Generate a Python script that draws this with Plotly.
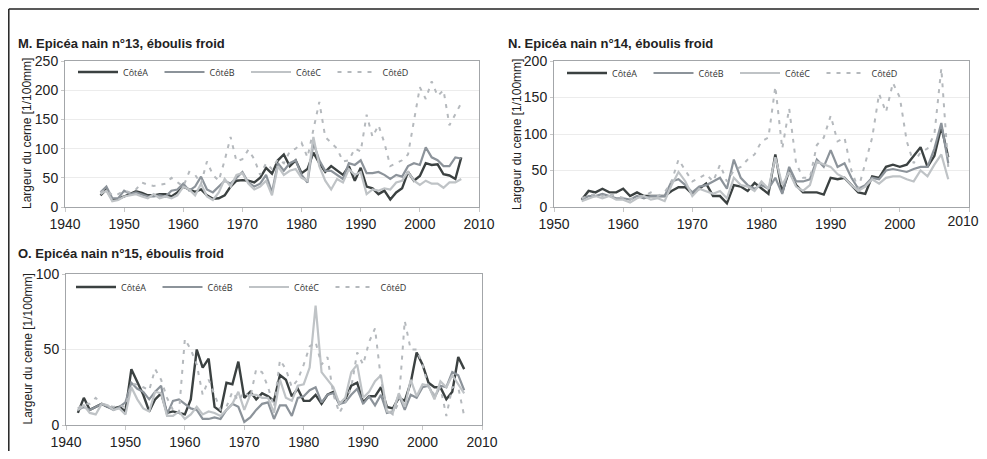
import plotly.graph_objects as go

# ---------------- DATA ----------------
years_m = list(range(1946, 2008))
m_cote_a = [20, 30, 12, 14, 18, 22, 27, 24, 20, 20, 22, 22, 18, 25, 35, 30, 26, 30, 20, 14,
            15, 20, 35, 45, 46, 45, 42, 50, 67, 57, 80, 90, 70, 80, 58, 65, 93, 75, 60, 70,
            62, 55, 70, 45, 67, 35, 32, 22, 28, 13, 25, 32, 60, 45, 53, 75, 72, 73, 56, 54,
            48, 85]
m_cote_b = [25, 35, 15, 15, 28, 22, 25, 22, 18, 18, 20, 18, 28, 30, 40, 28, 35, 52, 30, 25,
            35, 45, 40, 50, 60, 42, 35, 40, 55, 25, 75, 62, 75, 80, 55, 42, 110, 80, 62, 62,
            55, 48, 75, 72, 80, 58, 58, 60, 55, 48, 55, 52, 70, 75, 72, 102, 85, 80, 70, 70,
            85, 83]
m_cote_c = [22, 28, 10, 12, 18, 20, 22, 18, 15, 22, 15, 18, 15, 20, 35, 30, 20, 40, 18, 12,
            25, 48, 35, 55, 58, 40, 30, 35, 45, 20, 70, 55, 62, 65, 50, 45, 120, 70, 45, 30,
            48, 42, 65, 55, 60, 22, 30, 28, 32, 30, 42, 45, 60, 45, 38, 45, 40, 40, 33, 42,
            42, 48]
m_cote_d = [25, 30, 20, 22, 28, 25, 30, 42, 38, 36, 38, 40, 50, 42, 35, 60, 55, 40, 78, 55,
            45, 80, 120, 78, 82, 98, 82, 55, 75, 65, 82, 75, 95, 100, 110, 85, 135, 180, 120, 110,
            100, 78, 80, 100, 95, 158, 120, 140, 110, 70, 75, 80, 90, 150, 205, 185, 215, 190, 200, 140,
            160, 178]

years_n = list(range(1954, 2008))
n_cote_a = [10, 22, 20, 25, 20, 20, 25, 15, 20, 15, 15, 15, 15, 22, 27, 27, 18, 25, 32, 15,
            15, 5, 30, 28, 22, 33, 25, 18, 72, 20, 50, 30, 20, 20, 20, 17, 40, 38, 40, 30,
            20, 18, 42, 40, 55, 58, 55, 58, 70, 82, 55, 70, 110, 68]
n_cote_b = [10, 15, 15, 18, 15, 12, 12, 10, 15, 12, 15, 15, 15, 35, 38, 30, 20, 28, 30, 35,
            40, 25, 65, 40, 30, 25, 30, 25, 40, 18, 55, 35, 35, 38, 65, 55, 78, 55, 60, 40,
            25, 30, 40, 38, 50, 52, 50, 48, 52, 55, 55, 80, 115, 60]
n_cote_c = [8, 12, 15, 12, 15, 10, 10, 6, 12, 15, 10, 12, 8, 30, 48, 35, 15, 25, 22, 18,
            22, 12, 40, 30, 28, 22, 35, 25, 68, 30, 48, 28, 22, 30, 62, 58, 55, 45, 40, 30,
            22, 28, 38, 32, 40, 42, 42, 38, 35, 50, 42, 58, 72, 38]
n_cote_d = [12, 15, 18, 15, 18, 15, 12, 10, 15, 15, 20, 15, 20, 35, 65, 50, 35, 40, 45, 35,
            58, 35, 50, 55, 65, 72, 90, 95, 165, 80, 135, 60, 40, 40, 85, 95, 125, 90, 95, 50,
            25, 60, 95, 155, 130, 170, 150, 90, 60, 75, 80, 100, 190, 55]

years_o = list(range(1942, 2008))
o_cote_a = [8, 18, 10, 12, 14, 12, 11, 12, 9, 37, 28, 20, 9, 17, 21, 8, 9, 8, 7, 17,
            50, 38, 44, 12, 9, 28, 27, 42, 18, 22, 17, 21, 19, 16, 33, 30, 19, 24, 16, 16,
            20, 14, 20, 22, 14, 17, 26, 28, 15, 19, 19, 25, 12, 11, 18, 16, 28, 48, 40, 28,
            25, 25, 17, 22, 45, 37]
o_cote_b = [10, 12, 10, 12, 14, 12, 10, 12, 15, 28, 24, 22, 17, 22, 26, 7, 16, 17, 14, 11,
            10, 4, 4, 5, 4, 10, 14, 12, 2, 5, 10, 14, 15, 4, 13, 13, 6, 18, 19, 23,
            25, 15, 20, 21, 14, 15, 20, 24, 14, 19, 13, 20, 8, 9, 20, 10, 20, 18, 25, 26,
            18, 26, 25, 35, 33, 23]
o_cote_c = [10, 13, 8, 7, 14, 13, 10, 11, 7, 25, 17, 11, 9, 22, 21, 6, 6, 9, 4, 7,
            12, 7, 9, 8, 6, 10, 14, 22, 10, 20, 20, 18, 18, 8, 30, 18, 16, 26, 27, 38,
            79, 35, 30, 25, 14, 18, 35, 40, 18, 22, 29, 33, 9, 8, 21, 12, 30, 19, 27, 26,
            17, 29, 25, 33, 27, 21]
o_cote_d = [11, 14, 14, 18, 14, 13, 12, 13, 12, 27, 27, 25, 23, 37, 30, 18, 10, 8, 57, 50,
            40, 20, 30, 20, 10, 12, 22, 16, 22, 18, 37, 35, 25, 12, 43, 37, 25, 30, 40, 52,
            55, 40, 45, 20, 8, 15, 25, 48, 40, 55, 64, 30, 10, 7, 15, 69, 50, 50, 40, 25,
            20, 25, 6, 25, 25, 6]

series_names = ["CôtéA", "CôtéB", "CôtéC", "CôtéD"]
titles = ["M. Epicéa nain n°13, éboulis froid",
          "N. Epicéa nain n°14, éboulis froid",
          "O. Epicéa nain n°15, éboulis froid"]
y_title = "Largeur du cerne [1/100mm]"
ticks_m = [1940, 1950, 1960, 1970, 1980, 1990, 2000, 2010]
ticks_n = [1950, 1960, 1970, 1980, 1990, 2000, 2010]
ticks_o = [1940, 1950, 1960, 1970, 1980, 1990, 2000, 2010]

# ---------------- STYLE ----------------
# page has an 8px body margin: figure is sized so page == window, coords given in window px
OX, OY = 8, 8
W, H = 987 - 2 * OX, 459 - 2 * OY
colors = ["#3b4141", "#8c939a", "#bfc3c6", "#b5b9bd"]
widths = [2.4, 2.2, 2.2, 2.0]
dashes = ["solid", "solid", "solid", "4px,6px"]
tickfont = dict(family="Liberation Sans, Arial", size=14, color="#222")


def px_x(v):
    return (v - OX) / W


def px_y(v):
    return 1 - (v - OY) / H


panels = [
    dict(years=years_m, data=[m_cote_a, m_cote_b, m_cote_c, m_cote_d], ticks=ticks_m,
         x=(65, 479), y=(61, 207), xr=[1940, 2010], yr=[0, 250], ydt=50, legend_y=72,
         legend_x=73, title_xy=(16, 43), ytitle_x=27),
    dict(years=years_n, data=[n_cote_a, n_cote_b, n_cote_c, n_cote_d], ticks=ticks_n,
         x=(554, 969), y=(61, 207), xr=[1950, 2010], yr=[0, 200], ydt=50, legend_y=73,
         legend_x=562, title_xy=(506, 43), ytitle_x=517, edge_label=True),
    dict(years=years_o, data=[o_cote_a, o_cote_b, o_cote_c, o_cote_d], ticks=ticks_o,
         x=(66, 482), y=(274, 425), xr=[1940, 2010], yr=[0, 100], ydt=50, legend_y=287,
         legend_x=71, title_xy=(16, 254), ytitle_x=27),
]

fig = go.Figure()
annotations = []
layout = {}
for i, p in enumerate(panels):
    sfx = "" if i == 0 else str(i + 1)
    leg = "legend" if i == 0 else f"legend{i + 1}"
    for k in range(4):
        fig.add_trace(go.Scatter(
            x=p["years"], y=p["data"][k], mode="lines", name=series_names[k],
            line=dict(color=colors[k], width=widths[k], dash=dashes[k]),
            xaxis="x" + sfx, yaxis="y" + sfx, legend=leg, showlegend=True,
            hoverinfo="skip"))
    tick_text = [str(t) for t in p["ticks"]]
    if p.get("edge_label"):
        tick_text[-1] = ""  # last label drawn by an overlay axis, nudged inside the page
    layout["xaxis" + sfx] = dict(
        domain=[px_x(p["x"][0]), px_x(p["x"][1])], anchor="y" + sfx,
        range=p["xr"], tickvals=p["ticks"], ticktext=tick_text, showgrid=False,
        zeroline=False, showline=True, linecolor="#a3a6a9", linewidth=1, mirror=True,
        ticks="outside", ticklen=4, tickcolor="#c8c8c8", automargin=False,
        tickfont=tickfont)
    layout["yaxis" + sfx] = dict(
        domain=[px_y(p["y"][1]), px_y(p["y"][0])], anchor="x" + sfx,
        range=p["yr"], dtick=p["ydt"], showgrid=True, gridcolor="#ececec", gridwidth=1,
        zeroline=False, showline=True, linecolor="#a3a6a9", linewidth=1, mirror=True,
        ticks="outside", ticklen=3, tickcolor="#c8c8c8", automargin=False,
        tickfont=tickfont)
    if p.get("edge_label"):
        fig.add_trace(go.Scatter(x=[], y=[], xaxis="x4", yaxis="y" + sfx,
                                 showlegend=False, hoverinfo="skip"))
        layout["xaxis4"] = dict(
            overlaying="x" + sfx, anchor="y" + sfx, side="bottom",
            domain=[px_x(p["x"][0]), px_x(p["x"][1])],
            range=p["xr"], tickvals=[p["ticks"][-1]], ticktext=[str(p["ticks"][-1])],
            showgrid=False, zeroline=False, showline=False, ticks="", automargin=False,
            ticklabelshift=-6, ticklabelstandoff=4, tickfont=tickfont)
    layout[leg] = dict(
        orientation="h", x=px_x(p["legend_x"]), y=px_y(p["legend_y"]),
        xanchor="left", yanchor="middle", bgcolor="rgba(0,0,0,0)",
        itemwidth=40, entrywidth=31.5, entrywidthmode="pixels",
        font=dict(family="Open Sans", size=9, color="#333"),
        itemclick=False, itemdoubleclick=False, tracegroupgap=0)
    annotations.append(dict(
        text="<b>" + titles[i] + "</b>", x=px_x(p["title_xy"][0]), y=px_y(p["title_xy"][1]),
        xref="paper", yref="paper", xanchor="left", yanchor="middle", showarrow=False,
        font=dict(family="Liberation Sans, Arial", size=13, color="#222")))
    annotations.append(dict(
        text=y_title, x=px_x(p["ytitle_x"]), y=px_y((p["y"][0] + p["y"][1]) / 2),
        xref="paper", yref="paper", xanchor="center", yanchor="middle", textangle=-90,
        showarrow=False, font=dict(family="Liberation Sans, Arial", size=12, color="#222")))

shapes = [
    dict(type="line", xref="paper", yref="paper", x0=px_x(8.8), x1=px_x(8.8), y0=px_y(9), y1=0,
         line=dict(color="#222", width=1.5)),
    dict(type="line", xref="paper", yref="paper", x0=px_x(8.8), x1=1, y0=px_y(9), y1=px_y(9),
         line=dict(color="#222", width=1.5)),
]

fig.update_layout(
    width=W, height=H, margin=dict(l=0, r=0, t=0, b=0, autoexpand=False),
    paper_bgcolor="white", plot_bgcolor="white",
    annotations=annotations, shapes=shapes, **layout)

fig.write_html("out.html")
